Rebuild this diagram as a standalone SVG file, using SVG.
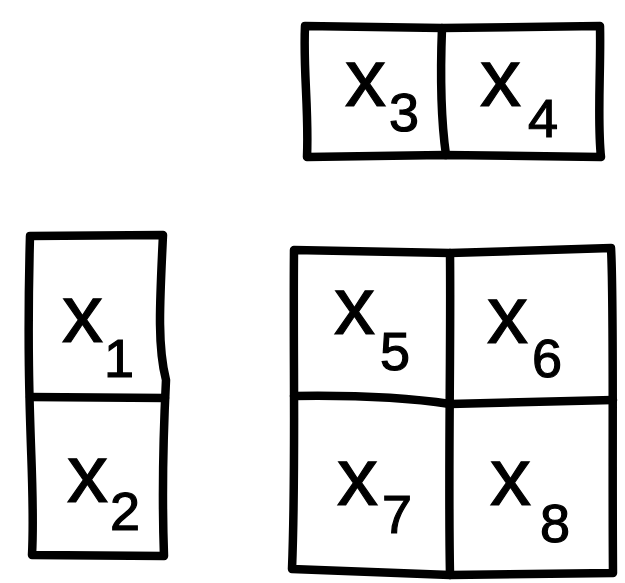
<svg xmlns="http://www.w3.org/2000/svg" width="625" height="583" viewBox="0 0 625 583">
<style>
.ln{fill:none;stroke:#000;stroke-width:8.5;stroke-linecap:round;stroke-linejoin:round}
.v{font-family:"Liberation Sans",Arial,sans-serif;font-size:82px;fill:#000;stroke:#000;stroke-width:1.2}
.s{font-size:54px}
</style>
<rect width="625" height="583" fill="#fff"/>
<g id="block-x3-x4">
<path class="ln" d="M305,26 L442,28 L600,26 C601,70 597,120 601,157 L444,155 L307,157 C309,110 303,70 305,26 Z"/>
<path class="ln" d="M442,28 C440,80 441,120 446,155"/>
<text class="v" x="345" y="106">x<tspan class="s" x="389" y="131">3</tspan></text>
<text class="v" x="480" y="106">x<tspan class="s" x="528" y="137">4</tspan></text>
</g>
<g id="block-x1-x2">
<path class="ln" d="M30,236 L163,235 C160,300 157,345 166,380 C163,440 162,500 164,556 L32,555 C36,480 25,420 30,236 Z"/>
<path class="ln" d="M30,397 L165,398"/>
<text class="v" x="62" y="342">x<tspan class="s" x="104" y="377">1</tspan></text>
<text class="v" x="67" y="502">x<tspan class="s" x="110" y="530">2</tspan></text>
</g>
<g id="block-x5-x8">
<path class="ln" d="M294,250 L450,253 L611,248 C614,300 612,450 613,573 L450,575 L292,569 C296,470 293,360 294,250 Z"/>
<path class="ln" d="M450,253 C451,350 448,470 450,575"/>
<path class="ln" d="M294,396 C360,395 410,398 450,404 L613,400"/>
<text class="v" x="334" y="334">x<tspan class="s" x="380" y="370">5</tspan></text>
<text class="v" x="487" y="343">x<tspan class="s" x="532" y="377">6</tspan></text>
<text class="v" x="337" y="505">x<tspan class="s" x="382" y="533">7</tspan></text>
<text class="v" x="490" y="505">x<tspan class="s" x="540" y="542">8</tspan></text>
</g>
<g id="connectors"/>
</svg>
